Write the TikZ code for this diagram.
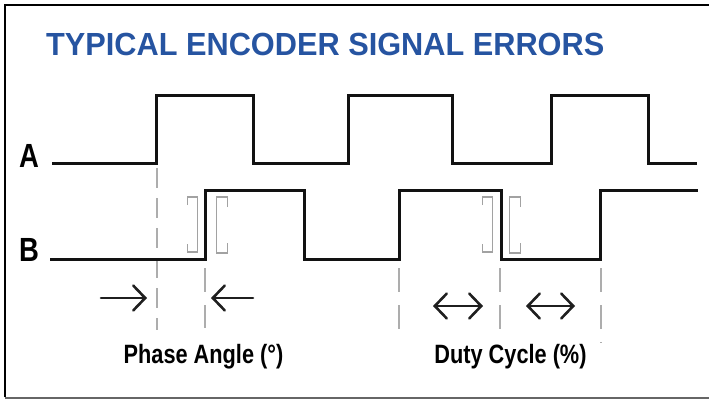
\documentclass[tikz,border=0pt]{standalone}
\usepackage{fontspec}
\setmainfont{Liberation Sans}
\newfontfamily\narrowsf[FakeStretch=0.82]{Liberation Sans}
\newfontfamily\titlesf[FakeStretch=0.96]{Liberation Sans}
\usetikzlibrary{arrows.meta}
\definecolor{titleblue}{HTML}{2654A1}
\definecolor{guidegray}{HTML}{ADADAD}
\definecolor{brkgray}{HTML}{A2A2A2}
\tikzset{
  signal/.style={line width=3pt, black!93, line join=miter},
  guide/.style={line width=1.9pt, guidegray, dash pattern=on 24pt off 13pt},
  brk/.style={line width=1.8pt, brkgray},
  dimarrow/.style={line width=2.6pt, black!88, line cap=round},
  lbl/.style={inner sep=0pt, font=\narrowsf\bfseries\fontsize{26.5}{28}\selectfont},
  chan/.style={inner sep=0pt, anchor=base west, font=\narrowsf\bfseries\fontsize{33.5}{34}\selectfont},
  >={Straight Barb[length=12pt,width=25pt,line cap=round]}
}
\begin{document}
\begin{tikzpicture}[x=1pt,y=-1pt]
\useasboundingbox (0,0) rectangle (709,400);
% frame
\draw [line width=2pt] (709,4.5) -- (4.5,4.5) -- (4.5,397);
\draw [line width=1.5pt, black!60] (4.5,398) -- (709,398);
% title
\node (title) [anchor=base west, inner sep=0pt, text=titleblue, font=\titlesf\bfseries\fontsize{32}{32}\selectfont] at (46,55) {TYPICAL ENCODER SIGNAL ERRORS};
% channel names
\node (labA) [chan] at (19,167) {A};
\node (labB) [chan] at (19,261) {B};
% guide lines
\draw [guide, dash pattern=on 20pt off 10pt] (157,168) -- (157,330);
\foreach \x/\y in {205/328,399/335,500/338,601/343}
  \draw [guide] (\x,268) -- (\x,\y);
% brackets round the edges
\foreach \x in {197.5,492.5}
  \draw [brk] (\x-10,205) -- (\x-10,197) -- (\x,197) -- (\x,252) -- (\x-10,252) -- (\x-10,244);
\foreach \x in {216.5,509.5}
  \draw [brk] (\x+11,207) -- (\x+11,197) -- (\x,197) -- (\x,253) -- (\x+11,253) -- (\x+11,243);
% signals
\draw [signal] (52,163) -- (156,163) -- (156,95) -- (253,95) -- (253,163) -- (348,163) -- (348,95) -- (452,95) -- (452,163) -- (551,163) -- (551,95) -- (648,95) -- (648,163) -- (697,163);
\draw [signal] (50,259) -- (205,259) -- (205,190) -- (304,190) -- (304,259) -- (399,259) -- (399,190) -- (501,190) -- (501,259) -- (600,259) -- (600,190) -- (698,190);
% arrows
\draw [dimarrow, ->] (101,298) -- (147,298);
\draw [dimarrow, ->] (253,298) -- (211,298);
\draw [dimarrow, <->] (433,306) -- (483,306);
\draw [dimarrow, <->] (526,306) -- (575,306);
% labels
\node (phase) [lbl, anchor=base] at (203.5,363) {Phase Angle (°)};
\node (duty) [lbl, anchor=base] at (510.5,363) {Duty Cycle (\%)};
\end{tikzpicture}
\end{document}
